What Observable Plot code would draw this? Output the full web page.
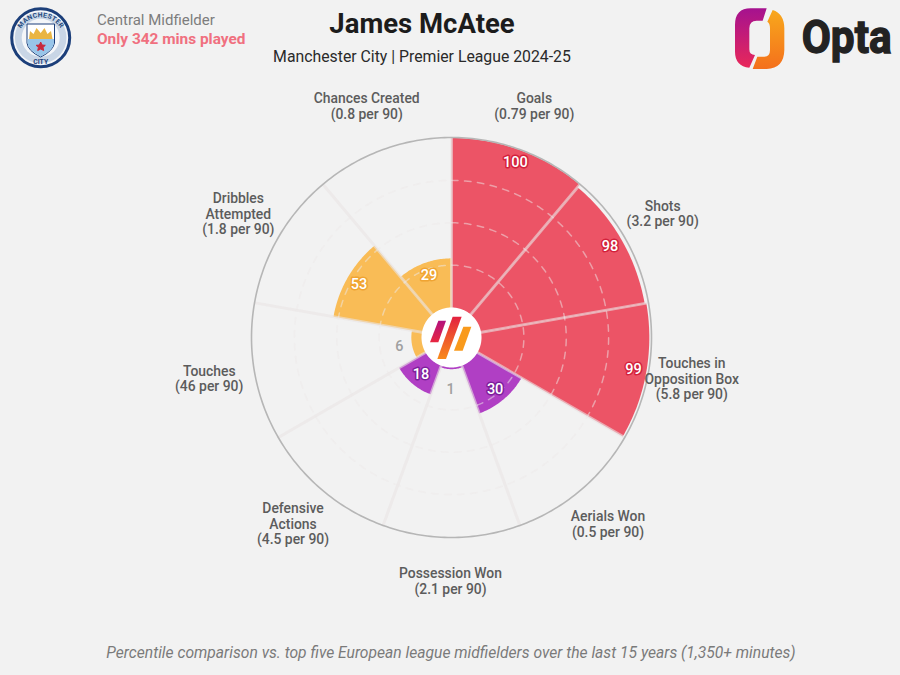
<!DOCTYPE html>
<html>
<head>
<meta charset="utf-8">
<script src="https://cdn.jsdelivr.net/npm/d3@7"></script>
<script src="https://cdn.jsdelivr.net/npm/@observablehq/plot@0.6"></script>
<style>
  html, body { margin: 0; background: #f2f2f2; }
  #page { position: relative; width: 900px; height: 675px; overflow: hidden; font-family: Roboto, sans-serif; }
  #page > div, #page > svg.logo { position: absolute; }
  #chart svg { background: none; display: block; }
  .head { white-space: nowrap; }
</style>
</head>
<body>
<div id="page">
  <div id="chart" style="left:0;top:0"></div>

  <svg class="logo" style="left:0;top:0" width="80" height="80" viewBox="0 0 80 80">
    <defs><path id="crestTop" d="M17.800 38 A23 23 0 0 1 63.600 38"/></defs>
    <circle cx="40.700" cy="37.700" r="29" fill="#f4f6f9" stroke="#1c3f7a" stroke-width="3"/>
    <circle cx="40.700" cy="37.700" r="25.800" fill="#c9d6e6"/>
    <circle cx="40.700" cy="37.700" r="19" fill="#f4f6f9"/>
    <text font-size="6.800" font-weight="700" fill="#1f4a80" letter-spacing=".25"><textPath href="#crestTop" startOffset="50%" text-anchor="middle">MANCHESTER</textPath></text>
    <text x="40.700" y="64" font-size="6.800" font-weight="700" fill="#1c3f7a" text-anchor="middle">CITY</text>
    <path d="M27 24 H54.500 V43 Q53 51 40.700 57 Q28 51 27 43 Z" fill="#fff" stroke="#1c3f7a" stroke-width="1"/>
    <path d="M29 39 L30 31 L33.500 34 L36.500 28 L40.700 33 L44.500 28 L47.500 34 L51 31 L52.500 39 Z" fill="#eab543"/>
    <path d="M27.500 39 H54 V43 Q53 50.500 40.700 56.400 Q28.500 50.500 27.500 43 Z" fill="#98c5e9"/>
    <path d="M40.700 42 L42 45 L45.300 45.300 L43 47.500 L43.700 50.500 L40.700 49 L37.700 50.500 L38.400 47.500 L36.100 45.300 L39.400 45 Z" fill="#c8283c" stroke="#c8283c"/>
  </svg>

  <div class="head" style="left:97px;top:11px;font-size:15px;color:#7d7d7d">Central Midfielder</div>
  <div class="head" style="left:97px;top:30px;font-size:15.4px;font-weight:700;color:#f0707f">Only 342 mins played</div>
  <div class="head" style="left:0;width:844px;text-align:center;top:7px;font-size:27.500px;font-weight:700;color:#1c1c1c">James McAtee</div>
  <div class="head" style="left:0;width:844px;text-align:center;top:47px;font-size:15.800px;font-weight:400;color:#2a2a2a">Manchester City | Premier League 2024-25</div>

  <svg class="logo" style="left:720px;top:0" width="180" height="80" viewBox="0 0 540 240">
    <defs>
      <linearGradient id="optaA" x1="0" y1="0" x2="0" y2="1"><stop offset="0" stop-color="#a5128f"/><stop offset="1" stop-color="#e8285a"/></linearGradient>
      <linearGradient id="optaB" x1="0" y1="0" x2="0" y2="1"><stop offset="0" stop-color="#f8a81c"/><stop offset="1" stop-color="#f4701c"/></linearGradient>
    </defs>
    <path d="M140 25 L92 25 Q45 25 45 75 L45 155 Q45 198 88 203 L105 165 Q88 165 88 148 L88 85 Q88 62 110 62 L128 62 Z" fill="url(#optaA)"/>
    <path d="M158 30 Q192 40 193 85 L193 150 Q192 205 140 207 L98 207 L112 170 L133 170 Q150 170 150 150 L150 85 Q150 70 142 65 Z" fill="url(#optaB)"/>
    <text x="245" y="160" font-family="Roboto, sans-serif" font-size="136" font-weight="700" fill="#222" stroke="#222" stroke-width="4" textLength="270" lengthAdjust="spacingAndGlyphs">Opta</text>
  </svg>

  <svg class="logo" style="left:370px;top:250px" width="170" height="170" viewBox="0 0 510 510">
    <defs>
      <linearGradient id="midA" x1="0" y1="0" x2="0" y2="1"><stop offset="0" stop-color="#b3127f"/><stop offset="1" stop-color="#e8263f"/></linearGradient>
      <linearGradient id="midB" x1="0" y1="0" x2="0" y2="1"><stop offset="0" stop-color="#e3213f"/><stop offset="1" stop-color="#f98a1a"/></linearGradient>
    </defs>
    <path d="M205 212 L228 212 L205 277 L180 277 Z" fill="url(#midA)"/>
    <path d="M248 200 L275 200 L228 327 L202 327 Z" fill="url(#midB)"/>
    <path d="M280 230 L304 230 L278 302 L252 302 Z" fill="#f99a1c"/>
  </svg>

  <div class="head" style="left:0;width:902px;text-align:center;top:643px;font-size:15.650px;font-style:italic;color:#7a7a7a">Percentile comparison vs. top five European league midfielders over the last 15 years (1,350+ minutes)</div>
</div>

<script>
// metrics go clockwise from 12 o'clock
const metrics = ["Goals", "Shots", "Touches in\nOpposition Box", "Aerials Won", "Possession Won", "Defensive\nActions", "Touches", "Dribbles\nAttempted", "Chances Created"];
const per90 = [0.79, 3.2, 5.8, 0.5, 2.1, 4.5, 46, 1.8, 0.8];
const percentile = [100, 98, 99, 30, 1, 18, 6, 53, 29];
const groups = ["attack", "attack", "attack", "defence", "defence", "defence", "possession", "possession", "possession"];

const groupNames = ["attack", "defence", "possession"];
const groupColors = ["#ec5466", "#b03fc4", "#f9bc56"];
const haloColors = ["#d3213c", "#7e1f9c", "#f0a432"];
const gridLevels = [25, 50, 75];

const slice = 360 / metrics.length;
const radius = d3.scaleLinear().domain([0, 100]).range([30, 199.5]);

// polar -> cartesian, degrees clockwise from north
const px = (deg, r) => r * Math.sin(deg * Math.PI / 180);
const py = (deg, r) => -r * Math.cos(deg * Math.PI / 180);

function arcPoints(from, to, r) {
  return d3.range(from, to + 0.5, 1).map(a => ({x: px(a, r), y: py(a, r)}));
}

const wedges = percentile.flatMap((v, i) => {
  const a = i * slice;
  const pts = [{x: 0, y: 0}, ...arcPoints(a, a + slice, radius(v))];
  return pts.map(p => ({...p, metric: metrics[i], group: groups[i]}));
});
const gridRings = gridLevels.flatMap(v => arcPoints(0, 360, radius(v)).map(p => ({...p, level: v})));
const outerRing = arcPoints(0, 360, radius(100) + 0.5);
const centerDisc = arcPoints(0, 360, 30);
const spokes = metrics.flatMap((m, i) => [
  {x: 0, y: 0, m},
  {x: px(i * slice, radius(100)), y: py(i * slice, radius(100)), m}
]);

const labels = metrics.map((m, i) => {
  const a = (i + 0.5) * slice;
  return {x: px(a, 245), y: py(a, 245), text: `${m}\n(${per90[i]} per 90)`};
});
const values = percentile.map((v, i) => {
  const a = (i + 0.5) * slice;
  const r = v < 10 ? 52 : radius(v) - 13;
  return {x: px(a, r), y: py(a, r), v, halo: haloColors[groupNames.indexOf(groups[i])]};
});

const chart = Plot.plot({
  width: 900,
  height: 675,
  margin: 0,
  style: {background: "none", fontFamily: "Roboto, sans-serif"},
  x: {domain: [-451, 449], range: [0, 900], axis: null},
  y: {domain: [-337, 338], range: [0, 675], axis: null},
  color: {domain: groupNames, range: groupColors},
  marks: [
    Plot.line(wedges, {x: "x", y: "y", z: "metric", fill: "group", stroke: null, curve: "linear-closed"}),
    Plot.line(spokes, {x: "x", y: "y", z: "m", stroke: "#e9e4e4", strokeWidth: 3, strokeOpacity: 0.6}),
    Plot.line(gridRings, {x: "x", y: "y", z: "level", stroke: "#eeeaea", strokeWidth: 1.5, strokeOpacity: 0.5, strokeDasharray: "6.5 6.5"}),
    Plot.line(outerRing, {x: "x", y: "y", stroke: "#b6b6b6", strokeWidth: 1.6}),
    Plot.line(centerDisc, {x: "x", y: "y", fill: "#fff", stroke: null, curve: "linear-closed"}),
    Plot.text(labels, {x: "x", y: "y", text: "text", fontSize: 13.9, fontWeight: 500, fill: "#5c5c5c", lineHeight: 1.13, dx: -1, dy: -1.5}),
    Plot.text(values.filter(d => d.v >= 10), {x: "x", y: "y", text: "v", fontSize: 14.5, fontWeight: 500, fill: "#fff", stroke: "halo", strokeWidth: 3}),
    Plot.text(values.filter(d => d.v < 10), {x: "x", y: "y", text: "v", fontSize: 14.5, fontWeight: 500, fill: "#a0a0a0", dx: -1})
  ]
});
document.querySelector("#chart").append(chart);
</script>
</body>
</html>
